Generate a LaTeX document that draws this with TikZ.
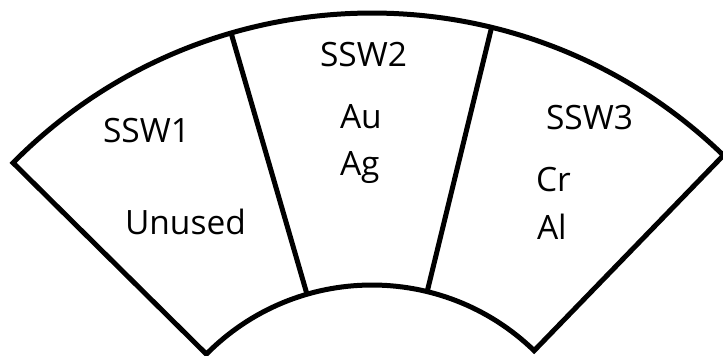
\documentclass[tikz,border=0pt]{standalone}
\usepackage{fontspec}
\setmainfont{Open Sans}
\usetikzlibrary{calc}
\begin{document}
\begin{tikzpicture}[x=1pt,y=1pt,
  edge/.style={draw=black,line width=5pt,line join=miter},
  lbl/.style={anchor=base west,inner sep=0pt,outer sep=0pt,font=\fontsize{33.5}{40}\selectfont,text=black}]
\useasboundingbox (0,0) rectangle (723,356);
\coordinate (c) at (372,-162);
% outline of the annular sector
\draw[edge] ($(c)+(135.3:505)$) arc[start angle=135.3,end angle=45.9,radius=505]
  -- ($(c)+(45.9:233)$) arc[start angle=45.9,end angle=135.3,radius=233] -- cycle;
% dividers
\draw[edge] ($(c)+(106.2:233)$) -- ($(c)+(106.2:505)$);
\draw[edge] ($(c)+(76.3:233)$) -- ($(c)+(76.3:505)$);
% labels
\node[lbl] (s1) at (103,213) {SSW1};
\node[lbl] (u1) at (125,121) {Unused};
\node[lbl] (s2) at (320,289) {SSW2};
\node[lbl] (au) at (340,227) {Au};
\node[lbl] (ag) at (340,180) {Ag};
\node[lbl] (s3) at (546,226) {SSW3};
\node[lbl] (cr) at (536,164) {Cr};
\node[lbl] (al) at (537,116) {Al};
\end{tikzpicture}
\end{document}
